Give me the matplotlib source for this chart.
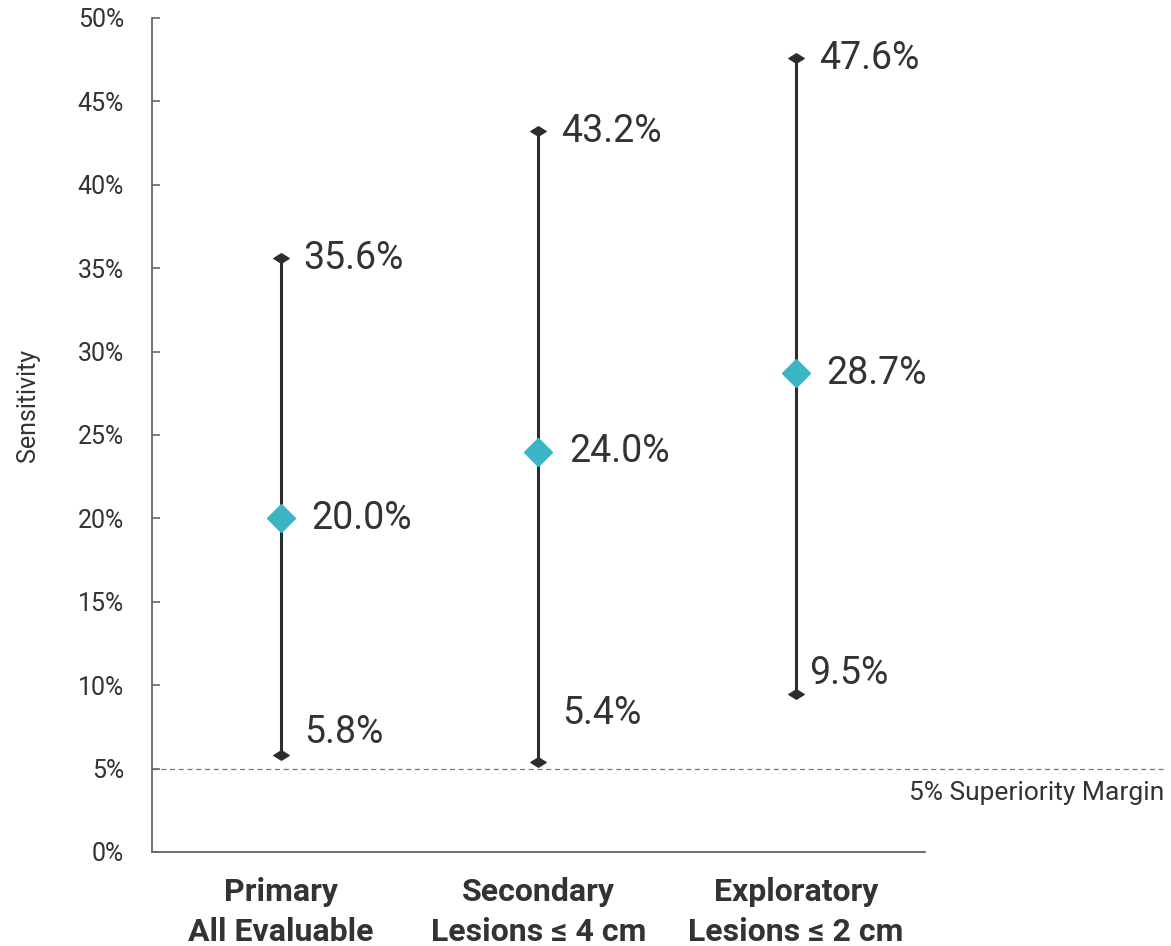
import matplotlib.pyplot as plt
from matplotlib.path import Path

plt.rcParams['font.family'] = ['Roboto', 'DejaVu Sans']

# data
categories = ["Primary\nAll Evaluable", "Secondary\nLesions ≤ 4 cm", "Exploratory\nLesions ≤ 2 cm"]
estimate = [20.0, 24.0, 28.7]
lower = [5.8, 5.4, 9.5]
upper = [35.6, 43.2, 47.6]
margin = 5
yticks = [0, 5, 10, 15, 20, 25, 30, 35, 40, 45, 50]

text_col = '#333333'
teal = '#3bb5c3'

# flat diamond for the CI ends
cap = Path([(-1, 0), (0, 0.62), (1, 0), (0, -0.62), (-1, 0)],
           [Path.MOVETO, Path.LINETO, Path.LINETO, Path.LINETO, Path.CLOSEPOLY])

fig = plt.figure(figsize=(11.71, 9.46), dpi=100)
ax = fig.add_axes([0.1298, 0.0994, 0.6601, 0.8816])

x = list(range(len(categories)))

# superiority margin line, runs past the axes on the right
ax.plot([-0.5, 3.43], [margin, margin], ls=(0, (4, 3)), color='#777777', lw=0.9,
        clip_on=False, zorder=1)
ax.text(3.43, margin - 1.45, f"{margin}% Superiority Margin", ha='right', va='center',
        fontsize=19, color=text_col)

for i in x:
    ax.plot([i, i], [lower[i], upper[i]], color='#2d2d2d', lw=2.2, zorder=2,
            solid_capstyle='butt')
ax.plot(x, upper, ls='none', marker=cap, ms=11, color='#2d2d2d', zorder=3, clip_on=False)
ax.plot(x, lower, ls='none', marker=cap, ms=11, color='#2d2d2d', zorder=3, clip_on=False)
ax.plot(x, estimate, ls='none', marker='D', ms=14, color=teal, zorder=4)

# value labels
low_dx = [17, 17, 9]
low_dy = [16.5, 35, 14.5]
for i in x:
    ax.annotate(f"{upper[i]:.1f}%", (i, upper[i]), xytext=(16.5, 0), textcoords='offset points',
                ha='left', va='center', fontsize=27, color=text_col)
    ax.annotate(f"{estimate[i]:.1f}%", (i, estimate[i]), xytext=(22, 0), textcoords='offset points',
                ha='left', va='center', fontsize=27, color=text_col)
    ax.annotate(f"{lower[i]:.1f}%", (i, lower[i]), xytext=(low_dx[i], low_dy[i]),
                textcoords='offset points', ha='left', va='center', fontsize=27, color=text_col)

ax.set_xlim(-0.5, 2.5)
ax.set_ylim(0, 50)
ax.set_yticks(yticks)
ax.set_yticklabels([f"{t}%" for t in yticks], fontsize=18, color=text_col)
ax.tick_params(axis='y', direction='in', length=6, width=1.2, color='#666666', pad=20)
ax.set_xticks(x)
ax.set_xticklabels(categories, fontsize=23, fontweight='bold', color=text_col, linespacing=1.42)
ax.tick_params(axis='x', length=0, pad=18)
ax.set_ylabel("Sensitivity", fontsize=18, color=text_col, labelpad=27, y=0.536)

for s in ['top', 'right']:
    ax.spines[s].set_visible(False)
for s in ['left', 'bottom']:
    ax.spines[s].set_color('#666666')
    ax.spines[s].set_linewidth(1.3)

fig.savefig('out.png', dpi=100)
